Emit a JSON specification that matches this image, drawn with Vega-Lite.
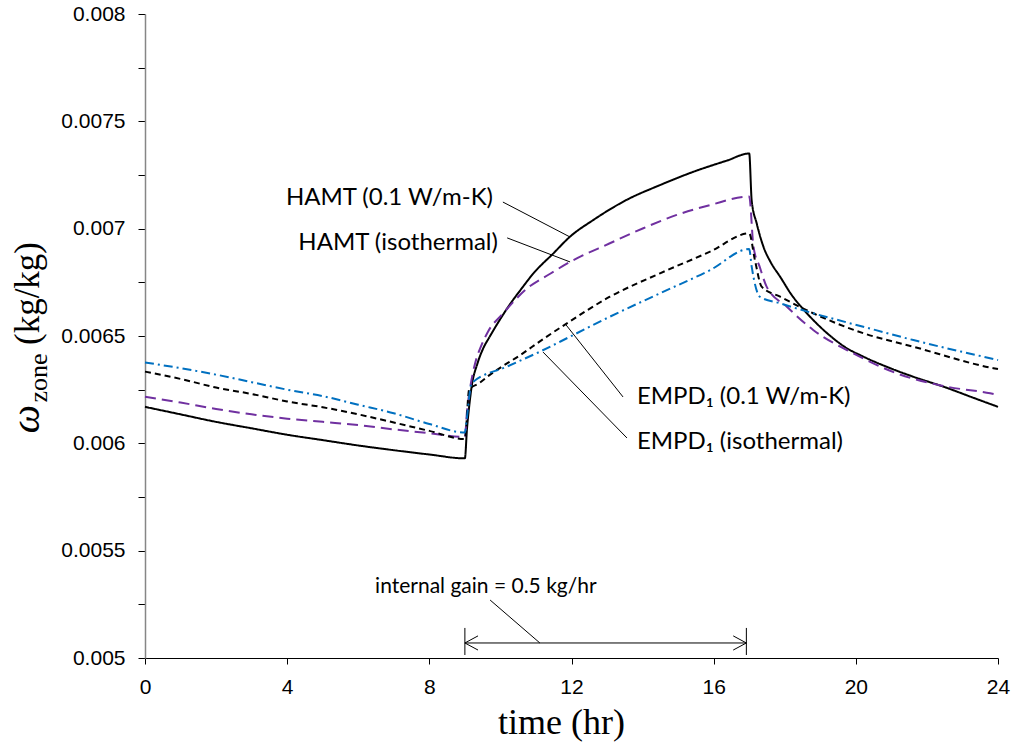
{
  "$schema": "https://vega.github.io/schema/vega-lite/v6.json",
  "width": 853,
  "height": 644,
  "autosize": {"type": "none"},
  "padding": {"left": 145, "top": 14, "right": 15, "bottom": 84},
  "background": "white",
  "config": {"view": {"stroke": null}},
  "datasets": {
    "series": [
      {"t": 0, "w": 0.00617, "s": "HAMT (0.1 W/m-K)"},
      {"t": 1, "w": 0.006135, "s": "HAMT (0.1 W/m-K)"},
      {"t": 2, "w": 0.0061, "s": "HAMT (0.1 W/m-K)"},
      {"t": 3, "w": 0.00607, "s": "HAMT (0.1 W/m-K)"},
      {"t": 4, "w": 0.00604, "s": "HAMT (0.1 W/m-K)"},
      {"t": 5, "w": 0.006015, "s": "HAMT (0.1 W/m-K)"},
      {"t": 6, "w": 0.00599, "s": "HAMT (0.1 W/m-K)"},
      {"t": 7, "w": 0.005968, "s": "HAMT (0.1 W/m-K)"},
      {"t": 8, "w": 0.005948, "s": "HAMT (0.1 W/m-K)"},
      {"t": 9, "w": 0.00593, "s": "HAMT (0.1 W/m-K)"},
      {"t": 9.06, "w": 0.00607, "s": "HAMT (0.1 W/m-K)"},
      {"t": 9.12, "w": 0.00617, "s": "HAMT (0.1 W/m-K)"},
      {"t": 9.19, "w": 0.006264, "s": "HAMT (0.1 W/m-K)"},
      {"t": 9.35, "w": 0.00637, "s": "HAMT (0.1 W/m-K)"},
      {"t": 9.51, "w": 0.00644, "s": "HAMT (0.1 W/m-K)"},
      {"t": 9.71, "w": 0.0065, "s": "HAMT (0.1 W/m-K)"},
      {"t": 10.0, "w": 0.00658, "s": "HAMT (0.1 W/m-K)"},
      {"t": 10.22, "w": 0.006636, "s": "HAMT (0.1 W/m-K)"},
      {"t": 10.6, "w": 0.006722, "s": "HAMT (0.1 W/m-K)"},
      {"t": 10.93, "w": 0.006792, "s": "HAMT (0.1 W/m-K)"},
      {"t": 11.49, "w": 0.006885, "s": "HAMT (0.1 W/m-K)"},
      {"t": 11.96, "w": 0.006963, "s": "HAMT (0.1 W/m-K)"},
      {"t": 12.61, "w": 0.00704, "s": "HAMT (0.1 W/m-K)"},
      {"t": 13.55, "w": 0.007134, "s": "HAMT (0.1 W/m-K)"},
      {"t": 14.49, "w": 0.007203, "s": "HAMT (0.1 W/m-K)"},
      {"t": 15.43, "w": 0.007265, "s": "HAMT (0.1 W/m-K)"},
      {"t": 16.37, "w": 0.007317, "s": "HAMT (0.1 W/m-K)"},
      {"t": 17.0, "w": 0.00735, "s": "HAMT (0.1 W/m-K)"},
      {"t": 17.07, "w": 0.00713, "s": "HAMT (0.1 W/m-K)"},
      {"t": 17.21, "w": 0.007025, "s": "HAMT (0.1 W/m-K)"},
      {"t": 17.4, "w": 0.006916, "s": "HAMT (0.1 W/m-K)"},
      {"t": 17.6, "w": 0.006845, "s": "HAMT (0.1 W/m-K)"},
      {"t": 17.87, "w": 0.006776, "s": "HAMT (0.1 W/m-K)"},
      {"t": 18.2, "w": 0.00669, "s": "HAMT (0.1 W/m-K)"},
      {"t": 18.52, "w": 0.006625, "s": "HAMT (0.1 W/m-K)"},
      {"t": 18.9, "w": 0.006558, "s": "HAMT (0.1 W/m-K)"},
      {"t": 19.27, "w": 0.006502, "s": "HAMT (0.1 W/m-K)"},
      {"t": 19.7, "w": 0.006448, "s": "HAMT (0.1 W/m-K)"},
      {"t": 20.21, "w": 0.006404, "s": "HAMT (0.1 W/m-K)"},
      {"t": 21.0, "w": 0.006348, "s": "HAMT (0.1 W/m-K)"},
      {"t": 21.62, "w": 0.00631, "s": "HAMT (0.1 W/m-K)"},
      {"t": 22.5, "w": 0.006262, "s": "HAMT (0.1 W/m-K)"},
      {"t": 23.31, "w": 0.006212, "s": "HAMT (0.1 W/m-K)"},
      {"t": 24, "w": 0.00617, "s": "HAMT (0.1 W/m-K)"},

      {"t": 0, "w": 0.006217, "s": "HAMT (isothermal)"},
      {"t": 1, "w": 0.00619, "s": "HAMT (isothermal)"},
      {"t": 2, "w": 0.00616, "s": "HAMT (isothermal)"},
      {"t": 3, "w": 0.006135, "s": "HAMT (isothermal)"},
      {"t": 4, "w": 0.006115, "s": "HAMT (isothermal)"},
      {"t": 5, "w": 0.0061, "s": "HAMT (isothermal)"},
      {"t": 6, "w": 0.006085, "s": "HAMT (isothermal)"},
      {"t": 7, "w": 0.006065, "s": "HAMT (isothermal)"},
      {"t": 8, "w": 0.006047, "s": "HAMT (isothermal)"},
      {"t": 9, "w": 0.00603, "s": "HAMT (isothermal)"},
      {"t": 9.06, "w": 0.00615, "s": "HAMT (isothermal)"},
      {"t": 9.15, "w": 0.00626, "s": "HAMT (isothermal)"},
      {"t": 9.3, "w": 0.00638, "s": "HAMT (isothermal)"},
      {"t": 9.45, "w": 0.00645, "s": "HAMT (isothermal)"},
      {"t": 9.65, "w": 0.00652, "s": "HAMT (isothermal)"},
      {"t": 10.08, "w": 0.006606, "s": "HAMT (isothermal)"},
      {"t": 10.74, "w": 0.00672, "s": "HAMT (isothermal)"},
      {"t": 11.4, "w": 0.00679, "s": "HAMT (isothermal)"},
      {"t": 11.96, "w": 0.006845, "s": "HAMT (isothermal)"},
      {"t": 13.08, "w": 0.006932, "s": "HAMT (isothermal)"},
      {"t": 14.02, "w": 0.007002, "s": "HAMT (isothermal)"},
      {"t": 14.96, "w": 0.007064, "s": "HAMT (isothermal)"},
      {"t": 15.9, "w": 0.00711, "s": "HAMT (isothermal)"},
      {"t": 17.0, "w": 0.00715, "s": "HAMT (isothermal)"},
      {"t": 17.12, "w": 0.006916, "s": "HAMT (isothermal)"},
      {"t": 17.3, "w": 0.00682, "s": "HAMT (isothermal)"},
      {"t": 17.49, "w": 0.00673, "s": "HAMT (isothermal)"},
      {"t": 18.06, "w": 0.006636, "s": "HAMT (isothermal)"},
      {"t": 18.8, "w": 0.006528, "s": "HAMT (isothermal)"},
      {"t": 19.93, "w": 0.006419, "s": "HAMT (isothermal)"},
      {"t": 21.15, "w": 0.006326, "s": "HAMT (isothermal)"},
      {"t": 22.56, "w": 0.006264, "s": "HAMT (isothermal)"},
      {"t": 23.78, "w": 0.006233, "s": "HAMT (isothermal)"},
      {"t": 24, "w": 0.006225, "s": "HAMT (isothermal)"},

      {"t": 0, "w": 0.006334, "s": "EMPD1 (0.1 W/m-K)"},
      {"t": 1, "w": 0.0063, "s": "EMPD1 (0.1 W/m-K)"},
      {"t": 2, "w": 0.00626, "s": "EMPD1 (0.1 W/m-K)"},
      {"t": 3, "w": 0.00623, "s": "EMPD1 (0.1 W/m-K)"},
      {"t": 4, "w": 0.006195, "s": "EMPD1 (0.1 W/m-K)"},
      {"t": 5, "w": 0.006168, "s": "EMPD1 (0.1 W/m-K)"},
      {"t": 6, "w": 0.006135, "s": "EMPD1 (0.1 W/m-K)"},
      {"t": 7, "w": 0.006097, "s": "EMPD1 (0.1 W/m-K)"},
      {"t": 8, "w": 0.006058, "s": "EMPD1 (0.1 W/m-K)"},
      {"t": 9, "w": 0.00602, "s": "EMPD1 (0.1 W/m-K)"},
      {"t": 9.12, "w": 0.00625, "s": "EMPD1 (0.1 W/m-K)"},
      {"t": 9.4, "w": 0.00628, "s": "EMPD1 (0.1 W/m-K)"},
      {"t": 9.71, "w": 0.00632, "s": "EMPD1 (0.1 W/m-K)"},
      {"t": 10.64, "w": 0.00642, "s": "EMPD1 (0.1 W/m-K)"},
      {"t": 11.11, "w": 0.006475, "s": "EMPD1 (0.1 W/m-K)"},
      {"t": 11.87, "w": 0.006559, "s": "EMPD1 (0.1 W/m-K)"},
      {"t": 13.08, "w": 0.006683, "s": "EMPD1 (0.1 W/m-K)"},
      {"t": 14.49, "w": 0.006792, "s": "EMPD1 (0.1 W/m-K)"},
      {"t": 15.9, "w": 0.006893, "s": "EMPD1 (0.1 W/m-K)"},
      {"t": 17.0, "w": 0.006978, "s": "EMPD1 (0.1 W/m-K)"},
      {"t": 17.16, "w": 0.006854, "s": "EMPD1 (0.1 W/m-K)"},
      {"t": 17.35, "w": 0.00673, "s": "EMPD1 (0.1 W/m-K)"},
      {"t": 17.87, "w": 0.006683, "s": "EMPD1 (0.1 W/m-K)"},
      {"t": 18.8, "w": 0.006606, "s": "EMPD1 (0.1 W/m-K)"},
      {"t": 20.21, "w": 0.006513, "s": "EMPD1 (0.1 W/m-K)"},
      {"t": 21.62, "w": 0.00645, "s": "EMPD1 (0.1 W/m-K)"},
      {"t": 23.87, "w": 0.00635, "s": "EMPD1 (0.1 W/m-K)"},
      {"t": 24, "w": 0.006346, "s": "EMPD1 (0.1 W/m-K)"},

      {"t": 0, "w": 0.006377, "s": "EMPD1 (isothermal)"},
      {"t": 1, "w": 0.00635, "s": "EMPD1 (isothermal)"},
      {"t": 2, "w": 0.00632, "s": "EMPD1 (isothermal)"},
      {"t": 3, "w": 0.006285, "s": "EMPD1 (isothermal)"},
      {"t": 4, "w": 0.00625, "s": "EMPD1 (isothermal)"},
      {"t": 5, "w": 0.00622, "s": "EMPD1 (isothermal)"},
      {"t": 6, "w": 0.00618, "s": "EMPD1 (isothermal)"},
      {"t": 7, "w": 0.00614, "s": "EMPD1 (isothermal)"},
      {"t": 8, "w": 0.00609, "s": "EMPD1 (isothermal)"},
      {"t": 9, "w": 0.00605, "s": "EMPD1 (isothermal)"},
      {"t": 9.05, "w": 0.00611, "s": "EMPD1 (isothermal)"},
      {"t": 9.19, "w": 0.00628, "s": "EMPD1 (isothermal)"},
      {"t": 10.18, "w": 0.006357, "s": "EMPD1 (isothermal)"},
      {"t": 11.11, "w": 0.006427, "s": "EMPD1 (isothermal)"},
      {"t": 11.96, "w": 0.006497, "s": "EMPD1 (isothermal)"},
      {"t": 13.08, "w": 0.00659, "s": "EMPD1 (isothermal)"},
      {"t": 14.49, "w": 0.006699, "s": "EMPD1 (isothermal)"},
      {"t": 15.9, "w": 0.006807, "s": "EMPD1 (isothermal)"},
      {"t": 17.0, "w": 0.006905, "s": "EMPD1 (isothermal)"},
      {"t": 17.07, "w": 0.006823, "s": "EMPD1 (isothermal)"},
      {"t": 17.3, "w": 0.006683, "s": "EMPD1 (isothermal)"},
      {"t": 17.87, "w": 0.006652, "s": "EMPD1 (isothermal)"},
      {"t": 18.8, "w": 0.006606, "s": "EMPD1 (isothermal)"},
      {"t": 20.21, "w": 0.006543, "s": "EMPD1 (isothermal)"},
      {"t": 21.62, "w": 0.006481, "s": "EMPD1 (isothermal)"},
      {"t": 24, "w": 0.006388, "s": "EMPD1 (isothermal)"}
    ],
    "rules": [
      {"x": 10.07, "y": 0.007124, "x2": 11.96, "y2": 0.006961},
      {"x": 10.19, "y": 0.006957, "x2": 11.96, "y2": 0.006845},
      {"x": 13.45, "y": 0.006216, "x2": 11.85, "y2": 0.006551},
      {"x": 13.56, "y": 0.006025, "x2": 11.2, "y2": 0.006425},
      {"x": 9.0, "y": 0.00507, "x2": 16.92, "y2": 0.00507},
      {"x": 9.0, "y": 0.00514, "x2": 9.0, "y2": 0.005014},
      {"x": 16.92, "y": 0.00514, "x2": 16.92, "y2": 0.005014},
      {"x": 9.0, "y": 0.00507, "x2": 9.37, "y2": 0.005103},
      {"x": 9.0, "y": 0.00507, "x2": 9.37, "y2": 0.005037},
      {"x": 16.92, "y": 0.00507, "x2": 16.55, "y2": 0.005103},
      {"x": 16.92, "y": 0.00507, "x2": 16.55, "y2": 0.005037},
      {"x": 9.71, "y": 0.00527, "x2": 11.11, "y2": 0.00507}
    ]
  },
  "layer": [
    {
      "data": {"name": "series"},
      "mark": {"type": "line", "strokeWidth": 2, "interpolate": "monotone"},
      "encoding": {
        "x": {
          "field": "t", "type": "quantitative",
          "scale": {"domain": [0, 24], "nice": false, "zero": false},
          "axis": {
            "values": [0, 4, 8, 12, 16, 20, 24],
            "labelFlush": false,
            "title": "time (hr)",
            "titleFont": "Liberation Serif", "titleFontSize": 36, "titleFontWeight": "normal",
            "titleColor": "black", "titleX": 416, "titleY": 75, "titleBaseline": "alphabetic", "titleAlign": "center",
            "labelFont": "Liberation Sans", "labelFontSize": 21, "labelColor": "black",
            "labelPadding": 12,
            "domainColor": "black", "domainWidth": 1.2,
            "tickColor": "black", "tickSize": 6, "grid": false
          }
        },
        "y": {
          "field": "w", "type": "quantitative",
          "scale": {"domain": [0.005, 0.008], "nice": false, "zero": false},
          "axis": {
            "values": [0.005, 0.00525, 0.0055, 0.00575, 0.006, 0.00625, 0.0065, 0.00675, 0.007, 0.00725, 0.0075, 0.00775, 0.008],
            "labelExpr": "round(datum.value * 4000) % 2 == 0 ? format(datum.value, '~g') : ''",
            "labelFlush": false,
            "title": null,
            "labelFont": "Liberation Sans", "labelFontSize": 21, "labelColor": "black",
            "labelPadding": 13,
            "domainColor": "#868686", "domainWidth": 1.5,
            "tickColor": "black", "tickSize": 7, "grid": false
          }
        },
        "color": {
          "field": "s", "type": "nominal", "legend": null,
          "scale": {
            "domain": ["HAMT (0.1 W/m-K)", "HAMT (isothermal)", "EMPD1 (0.1 W/m-K)", "EMPD1 (isothermal)"],
            "range": ["#000000", "#7030A0", "#000000", "#0070C0"]
          }
        },
        "strokeDash": {
          "field": "s", "type": "nominal", "legend": null,
          "scale": {
            "domain": ["HAMT (0.1 W/m-K)", "HAMT (isothermal)", "EMPD1 (0.1 W/m-K)", "EMPD1 (isothermal)"],
            "range": [[1, 0], [11, 6], [6, 4], [9, 4, 2, 4]]
          }
        }
      }
    },
    {
      "data": {"name": "rules"},
      "mark": {"type": "rule", "color": "black", "strokeWidth": 1},
      "encoding": {
        "x": {"field": "x", "type": "quantitative"},
        "y": {"field": "y", "type": "quantitative"},
        "x2": {"field": "x2"},
        "y2": {"field": "y2"}
      }
    },
    {
      "data": {"values": [
        {"x": 9.79, "y": 0.007143, "label": "HAMT (0.1 W/m-K)"},
        {"x": 9.93, "y": 0.006933, "label": "HAMT (isothermal)"}
      ]},
      "mark": {"type": "text", "align": "right", "baseline": "middle", "font": "Lato", "fontSize": 24, "color": "black"},
      "encoding": {
        "x": {"field": "x", "type": "quantitative"},
        "y": {"field": "y", "type": "quantitative"},
        "text": {"field": "label"}
      }
    },
    {
      "data": {"values": [
        {"x": 13.84, "y": 0.006216, "label": "EMPD₁ (0.1 W/m-K)"},
        {"x": 13.84, "y": 0.006006, "label": "EMPD₁ (isothermal)"}
      ]},
      "mark": {"type": "text", "align": "left", "baseline": "middle", "font": "Lato", "fontSize": 24, "color": "black"},
      "encoding": {
        "x": {"field": "x", "type": "quantitative"},
        "y": {"field": "y", "type": "quantitative"},
        "text": {"field": "label"}
      }
    },
    {
      "data": {"values": [
        {"x": 9.59, "y": 0.005331, "label": "internal gain = 0.5 kg/hr"}
      ]},
      "mark": {"type": "text", "align": "center", "baseline": "middle", "font": "Lato", "fontSize": 21, "color": "black"},
      "encoding": {
        "x": {"field": "x", "type": "quantitative"},
        "y": {"field": "y", "type": "quantitative"},
        "text": {"field": "label"}
      }
    },
    {
      "data": {"values": [
        {"x": -2.98, "y": 0.006113, "label": "ω"}
      ]},
      "mark": {"type": "text", "align": "center", "baseline": "alphabetic", "angle": 270, "font": "Liberation Serif", "fontStyle": "italic", "fontSize": 40, "color": "black"},
      "encoding": {
        "x": {"field": "x", "type": "quantitative"},
        "y": {"field": "y", "type": "quantitative"},
        "text": {"field": "label"}
      }
    },
    {
      "data": {"values": [
        {"x": -2.76, "y": 0.006304, "label": "zone"}
      ]},
      "mark": {"type": "text", "align": "center", "baseline": "alphabetic", "angle": 270, "font": "Liberation Serif", "fontSize": 26, "color": "black"},
      "encoding": {
        "x": {"field": "x", "type": "quantitative"},
        "y": {"field": "y", "type": "quantitative"},
        "text": {"field": "label"}
      }
    },
    {
      "data": {"values": [
        {"x": -2.98, "y": 0.006698, "label": "(kg/kg)"}
      ]},
      "mark": {"type": "text", "align": "center", "baseline": "alphabetic", "angle": 270, "font": "Liberation Serif", "fontSize": 35, "color": "black"},
      "encoding": {
        "x": {"field": "x", "type": "quantitative"},
        "y": {"field": "y", "type": "quantitative"},
        "text": {"field": "label"}
      }
    }
  ]
}
